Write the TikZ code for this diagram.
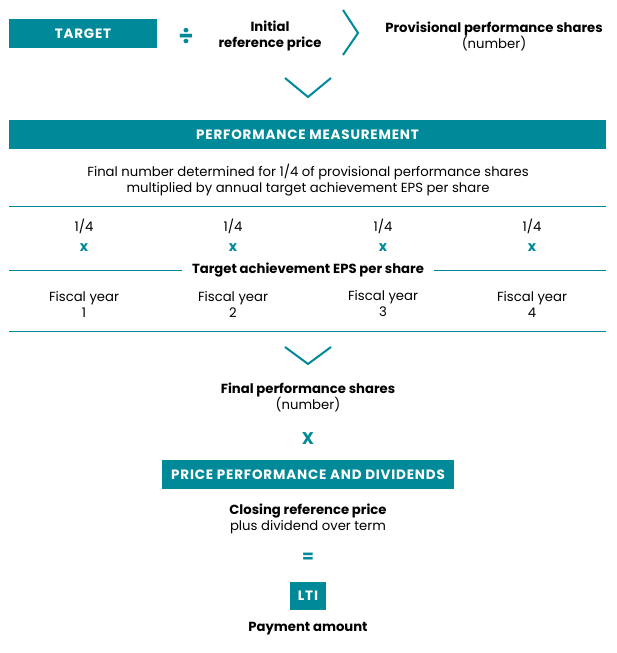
\documentclass[tikz,border=0pt]{standalone}
\usepackage{fontspec}
\setmainfont{Poppins}
\usepackage{xcolor}
\usetikzlibrary{positioning}
\definecolor{petrol}{RGB}{0,138,153}

\begin{document}
\begin{tikzpicture}[
        x=1pt, y=-1pt,
        every node/.style={font=\fontsize{13.2}{16}\selectfont, align=center, inner sep=0pt},
        bar/.style={fill=petrol, text=white, font=\fontsize{13.5}{16}\selectfont\bfseries\addfontfeatures{LetterSpace=6}, minimum height=29pt},
        head/.style={font=\fontsize{13.2}{16}\selectfont\bfseries},
        op/.style={text=petrol, font=\fontsize{17}{16}\selectfont\bfseries},
        times/.style={op, font=\fontsize{14}{16}\selectfont\bfseries},
        rule/.style={draw=petrol, line width=0.9pt},
        chev/.style={draw=petrol, line width=2pt}
    ]
        \useasboundingbox (0,0) rectangle (617,653);

        \node[bar, minimum width=148pt] (target) at (83,33.5) {TARGET};
        \node[op, font=\fontsize{24}{16}\selectfont\bfseries] (div) at (186,36) {÷};
        \node[head] (initial) at (270,36) {Initial\\reference price};
        \draw[chev] (343,10) -- (358,33) -- (343,55);
        \node (prov) at (494,36) {\textbf{Provisional performance shares}\\(number)};
        \draw[chev] (285,78) -- (308,97) -- (331,78);

        \node[bar, minimum width=597pt] (perf) at (307.5,134.5) {PERFORMANCE MEASUREMENT};
        \node (final) at (308,180) {Final number determined for 1/4 of provisional performance shares\\multiplied by annual target achievement EPS per share};
        \draw[rule] (9,206) -- (606,206);

        \node (q1) at (84,226) {1/4};
        \node (q2) at (233,226) {1/4};
        \node (q3) at (383,226) {1/4};
        \node (q4) at (532,226) {1/4};
        \node[times] (m1) at (84,247.5) {x};
        \node[times] (m2) at (233,247.5) {x};
        \node[times] (m3) at (383,247.5) {x};
        \node[times] (m4) at (532,247.5) {x};

        \node[head, inner xsep=10pt] (eps) at (308,270.5) {Target achievement EPS per share};
        \draw[rule] (9,270.5) -- (eps.west);
        \draw[rule] (eps.east) -- (606,270.5);

        \node (y1) at (84,304) {Fiscal year\\1};
        \node (y2) at (233,304) {Fiscal year\\2};
        \node (y3) at (383,304) {Fiscal year\\3};
        \node (y4) at (532,304) {Fiscal year\\4};
        \draw[rule] (9,331) -- (606,331);

        \draw[chev] (285,347) -- (308,364) -- (331,347);
        \node (fps) at (308,397) {\textbf{Final performance shares}\\(number)};
        \node[op] (mult) at (308,439) {X};
        \node[bar, minimum width=292pt] (price) at (308,474.5) {PRICE PERFORMANCE AND DIVIDENDS};
        \node (closing) at (308,519) {\textbf{Closing reference price}\\plus dividend over term};
        \node[op] (equals) at (308,558) {=};
        \node[bar, minimum width=36pt, minimum height=28pt] (lti) at (308,596) {LTI};
        \node[head] (pay) at (308,629) {Payment amount};
    \end{tikzpicture}
\end{document}
